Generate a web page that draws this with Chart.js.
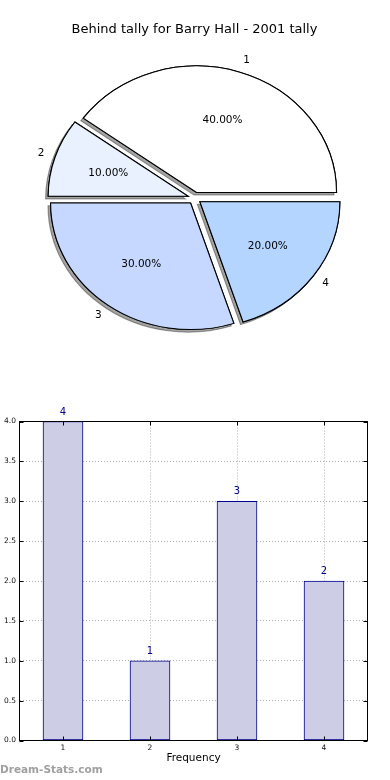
<!DOCTYPE html>
<html><head><meta charset="utf-8">
<script src="https://cdn.jsdelivr.net/npm/chart.js@4.4.0/dist/chart.umd.min.js"></script>
<style>
html,body{margin:0;padding:0;background:#fff;width:390px;height:780px;overflow:hidden;position:relative;}
#pie{position:absolute;left:0;top:0;}
#bar{position:absolute;left:0;top:370px;}
#wm{position:absolute;left:0;top:763px;font:bold 10.5px 'DejaVu Sans';color:#a0a0a0;white-space:nowrap;}
</style></head><body>
<canvas id="pie" width="390" height="370"></canvas>
<canvas id="bar" width="390" height="410"></canvas>
<div id="wm"></div>
<script>
// ---- data ----
const chartTitle = 'Behind tally for Barry Hall - 2001 tally';
const categories = ['1', '2', '3', '4'];
const tally = [4, 1, 3, 2];
const sliceColors = ['#ffffff', '#e9f0fe', '#c6d8ff', '#b3d5ff'];
const yTickLabels = ['0.0', '0.5', '1.0', '1.5', '2.0', '2.5', '3.0', '3.5', '4.0'];
const xAxisTitle = 'Frequency';
const watermark = 'Dream-Stats.com';

document.getElementById('wm').textContent = watermark;
const FONT = "'DejaVu Sans', 'Liberation Sans', sans-serif";
const total = tally.reduce((a, b) => a + b, 0);

// ---- pie (matplotlib style: counter-clockwise from 3 o'clock) ----
const order = [3, 2, 1, 0];
const SX = 140 / 126.5;   // horizontal stretch (elliptical pie)
const EX = 6;             // explode distance

const piePlugin = {
  id: 'pieDraw',
  beforeDatasetsDraw(chart) {
    const ctx = chart.ctx, meta = chart.getDatasetMeta(0);
    const cx = meta.data[0].x, cy = meta.data[0].y;
    ctx.save();
    ctx.translate(cx, cy); ctx.scale(SX, 1); ctx.translate(-cx, -cy);
    [0, 1].forEach(pass => {
      meta.data.forEach(el => {
        const m = (el.startAngle + el.endAngle) / 2;
        ctx.save();
        ctx.translate(Math.cos(m) * EX, Math.sin(m) * EX);
        if (pass === 0) {
          ctx.shadowColor = 'rgba(0,0,0,0.36)';
          ctx.shadowOffsetX = -2.6; ctx.shadowOffsetY = 2.6; ctx.shadowBlur = 0;
        }
        el.draw(ctx);
        ctx.restore();
      });
    });
    ctx.restore();
    return false;
  },
  afterDraw(chart) {
    const ctx = chart.ctx, meta = chart.getDatasetMeta(0);
    ctx.save();
    ctx.fillStyle = '#000';
    ctx.font = '10.5px ' + FONT;
    ctx.textBaseline = 'middle';
    meta.data.forEach((el, j) => {
      const i = order[j];
      const cx = el.x, cy = el.y, R = el.outerRadius;
      const m = (el.startAngle + el.endAngle) / 2, c = Math.cos(m), s = Math.sin(m);
      const pr = 0.6 * R + EX, lr = 1.1 * R + EX, lrx = 1.08 * R + EX;
      ctx.textAlign = 'center';
      ctx.fillText((tally[i] / total * 100).toFixed(2) + '%', cx + c * pr * SX, cy + s * pr);
      ctx.textAlign = c >= 0 ? 'left' : 'right';
      ctx.fillText(categories[i], cx + c * lrx * SX, cy + s * lr);
    });
    ctx.restore();
  }
};

new Chart(document.getElementById('pie'), {
  type: 'pie',
  data: {
    labels: order.map(i => categories[i]),
    datasets: [{
      data: order.map(i => tally[i]),
      backgroundColor: order.map(i => sliceColors[i]),
      borderColor: '#000',
      borderWidth: 1,
      borderJoinStyle: 'miter',
      radius: 126.5
    }]
  },
  options: {
    responsive: false, animation: false, events: [],
    rotation: 90,
    layout: { padding: { left: 0, right: 1, top: 0, bottom: 11.2 } },
    plugins: {
      legend: { display: false },
      tooltip: { enabled: false },
      title: {
        display: true, text: chartTitle, color: '#000',
        font: { family: FONT, size: 13, weight: 'normal' },
        padding: { top: 22, bottom: 0 }
      }
    }
  },
  plugins: [piePlugin]
});

// ---- bar ----
const barPlugin = {
  id: 'barDeco',
  afterDraw(chart) {
    const ctx = chart.ctx, a = chart.chartArea;
    const xs = chart.scales.x, ys = chart.scales.y;
    ctx.save();
    ctx.strokeStyle = '#000'; ctx.lineWidth = 1;
    ctx.beginPath();
    ys.ticks.forEach(t => {
      const y = Math.round(ys.getPixelForValue(t.value)) + 0.5;
      ctx.moveTo(a.left, y); ctx.lineTo(a.left + 4, y);
      ctx.moveTo(a.right, y); ctx.lineTo(a.right - 4, y);
    });
    xs.ticks.forEach((t, i) => {
      const x = Math.round(xs.getPixelForTick(i)) + 0.5;
      ctx.moveTo(x, a.bottom); ctx.lineTo(x, a.bottom - 4);
      ctx.moveTo(x, a.top); ctx.lineTo(x, a.top + 4);
    });
    ctx.stroke();
    ctx.strokeRect(a.left, a.top, a.right - a.left, a.bottom - a.top);
    const meta = chart.getDatasetMeta(0);
    ctx.fillStyle = '#00008b';
    ctx.font = '10px ' + FONT;
    ctx.textAlign = 'center'; ctx.textBaseline = 'middle';
    meta.data.forEach((el, i) => ctx.fillText(String(tally[i]), el.x, el.y - 9.5));
    ctx.restore();
  }
};

new Chart(document.getElementById('bar'), {
  type: 'bar',
  data: {
    labels: categories,
    datasets: [{
      data: tally,
      backgroundColor: '#cdcde6',
      borderColor: '#00008b',
      borderWidth: 1,
      borderSkipped: false,
      barThickness: 40
    }]
  },
  options: {
    responsive: false, animation: false, events: [],
    layout: { padding: { left: 0, right: 22.5, top: 51.5, bottom: 0 } },
    plugins: { legend: { display: false }, tooltip: { enabled: false } },
    scales: {
      x: {
        offset: true, z: 1,
        grid: { offset: false, color: '#b0b0b0', lineWidth: 1, drawTicks: false },
        border: { display: false, dash: [1, 2] },
        ticks: { padding: 3, color: '#111', font: { family: FONT, size: 7.5 } },
        title: { display: true, text: xAxisTitle, color: '#000', font: { family: FONT, size: 10.5 }, padding: { top: 0, bottom: 15 } },
        afterFit(s) { s.height = 39.5; }
      },
      y: {
        min: 0, max: 4, z: 1,
        grid: { color: '#b0b0b0', lineWidth: 1, drawTicks: false },
        border: { display: false, dash: [1, 2] },
        ticks: { stepSize: 0.5, padding: 3.5, color: '#111', font: { family: FONT, size: 7.5 },
                 callback: (v, i) => yTickLabels[i] },
        afterFit(s) { s.width = 19.5; }
      }
    }
  },
  plugins: [barPlugin]
});
</script>
</body></html>
